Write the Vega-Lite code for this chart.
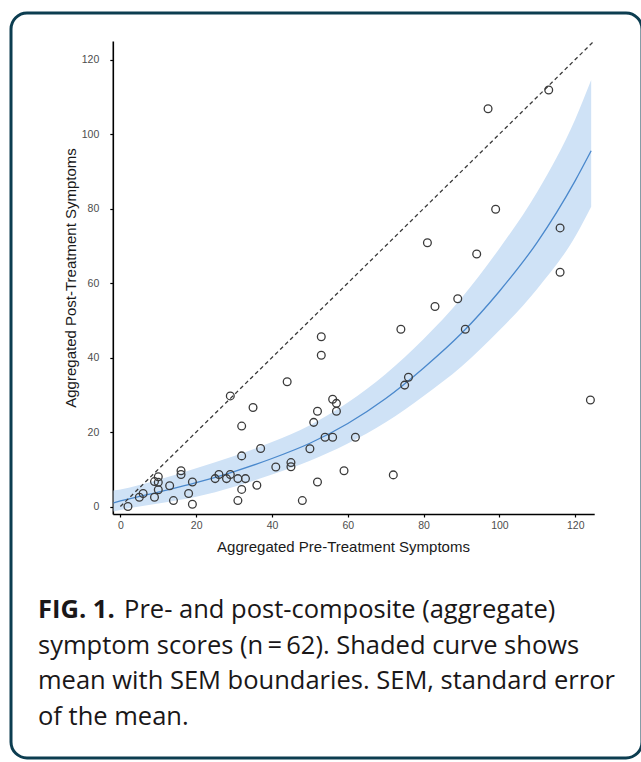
{
  "$schema": "https://vega.github.io/schema/vega-lite/v6.json",
  "width": 631,
  "height": 745,
  "autosize": {"type": "none"},
  "padding": {"left": 11, "top": 13, "right": 0, "bottom": 4},
  "background": "white",
  "title": {
    "text": "FIG. 1.",
    "subtitle": [
      "\u200b\u00a0\u00a0\u00a0\u00a0\u00a0\u00a0\u00a0\u00a0\u00a0\u00a0\u00a0\u00a0\u00a0Pre- and post-composite (aggregate)",
      "symptom scores (n\u2009=\u200962). Shaded curve shows",
      "mean with SEM boundaries. SEM, standard error",
      "of the mean."
    ],
    "orient": "bottom",
    "anchor": "start",
    "frame": "group",
    "dx": 27,
    "offset": -160,
    "font": "Open Sans",
    "fontSize": 25.5,
    "fontWeight": "bold",
    "color": "#1a1718",
    "subtitleFont": "Open Sans",
    "subtitleFontSize": 25.5,
    "subtitleFontWeight": "normal",
    "subtitleColor": "#1a1718",
    "subtitleLineHeight": 35.5,
    "subtitlePadding": -25.5
  },
  "datasets": {
    "points": [
      {"pre": 2, "post": 0}, {"pre": 5, "post": 2.5}, {"pre": 6, "post": 3.5}, {"pre": 9, "post": 2.5},
      {"pre": 9, "post": 6.7}, {"pre": 10, "post": 8}, {"pre": 10, "post": 6.5}, {"pre": 10, "post": 4.5},
      {"pre": 13, "post": 5.6}, {"pre": 14, "post": 1.6}, {"pre": 16, "post": 9.6}, {"pre": 16, "post": 8.6},
      {"pre": 18, "post": 3.5}, {"pre": 19, "post": 6.6}, {"pre": 19, "post": 0.6}, {"pre": 25, "post": 7.5},
      {"pre": 26, "post": 8.6}, {"pre": 28, "post": 7.5}, {"pre": 29, "post": 8.6}, {"pre": 31, "post": 7.5},
      {"pre": 33, "post": 7.5}, {"pre": 32, "post": 4.6}, {"pre": 36, "post": 5.7}, {"pre": 31, "post": 1.6},
      {"pre": 29, "post": 29.7}, {"pre": 35, "post": 26.6}, {"pre": 44, "post": 33.5}, {"pre": 32, "post": 21.6},
      {"pre": 37, "post": 15.6}, {"pre": 32, "post": 13.6}, {"pre": 41, "post": 10.6}, {"pre": 45, "post": 11.8},
      {"pre": 45, "post": 10.7}, {"pre": 48, "post": 1.6}, {"pre": 53, "post": 45.6}, {"pre": 53, "post": 40.6},
      {"pre": 56, "post": 28.8}, {"pre": 57, "post": 27.7}, {"pre": 57, "post": 25.6}, {"pre": 52, "post": 25.6},
      {"pre": 51, "post": 22.6}, {"pre": 54, "post": 18.6}, {"pre": 56, "post": 18.6}, {"pre": 62, "post": 18.6},
      {"pre": 50, "post": 15.5}, {"pre": 59, "post": 9.6}, {"pre": 72, "post": 8.5}, {"pre": 52, "post": 6.6},
      {"pre": 74, "post": 47.6}, {"pre": 83, "post": 53.7}, {"pre": 89, "post": 55.8}, {"pre": 91, "post": 47.6},
      {"pre": 76, "post": 34.7}, {"pre": 75, "post": 32.6}, {"pre": 124, "post": 28.6}, {"pre": 81, "post": 70.8},
      {"pre": 94, "post": 67.8}, {"pre": 99, "post": 79.8}, {"pre": 116, "post": 74.8}, {"pre": 116, "post": 62.9},
      {"pre": 97, "post": 106.8}, {"pre": 113, "post": 111.8}
    ],
    "fit": [
      {"pre": -1.8, "mean": 1.0, "lo": -1.3, "hi": 4.3},
      {"pre": 0, "mean": 1.5, "lo": -0.9, "hi": 4.6},
      {"pre": 10, "mean": 3.9, "lo": 0.8, "hi": 7.2},
      {"pre": 20, "mean": 6.4, "lo": 2.6, "hi": 10.3},
      {"pre": 30, "mean": 9.4, "lo": 5.3, "hi": 13.6},
      {"pre": 40, "mean": 12.9, "lo": 8.6, "hi": 17.3},
      {"pre": 50, "mean": 17.0, "lo": 12.3, "hi": 21.8},
      {"pre": 60, "mean": 22.3, "lo": 16.9, "hi": 27.9},
      {"pre": 70, "mean": 29.0, "lo": 22.6, "hi": 35.6},
      {"pre": 80, "mean": 37.2, "lo": 29.7, "hi": 45.0},
      {"pre": 90, "mean": 46.5, "lo": 37.6, "hi": 56.0},
      {"pre": 100, "mean": 57.8, "lo": 47.3, "hi": 69.3},
      {"pre": 110, "mean": 71.0, "lo": 58.5, "hi": 84.5},
      {"pre": 120, "mean": 87.5, "lo": 72.5, "hi": 104.0},
      {"pre": 124.2, "mean": 95.5, "lo": 80.5, "hi": 114.5}
    ],
    "identity": [
      {"pre": 0, "post": 0},
      {"pre": 125, "post": 125}
    ]
  },
  "layer": [
    {
      "data": {"name": "fit"},
      "mark": {"type": "area", "color": "#cfe2f6", "opacity": 1, "interpolate": "monotone"},
      "encoding": {
        "x": {"field": "pre", "type": "quantitative", "title": "Aggregated Pre-Treatment Symptoms",
              "scale": {"domain": [-2, 125], "range": [101.8, 583.2], "nice": false, "zero": false},
              "axis": {"values": [0, 20, 40, 60, 80, 100, 120]}},
        "y": {"field": "lo", "type": "quantitative", "title": "Aggregated Post-Treatment Symptoms",
              "scale": {"domain": [-2, 125], "range": [501, 27.9], "nice": false, "zero": false},
              "axis": {"values": [0, 20, 40, 60, 80, 100, 120]}},
        "y2": {"field": "hi"}
      }
    },
    {
      "data": {"name": "fit"},
      "mark": {"type": "line", "color": "#4a88cc", "strokeWidth": 1.3, "interpolate": "monotone"},
      "encoding": {
        "x": {"field": "pre", "type": "quantitative", "title": "Aggregated Pre-Treatment Symptoms",
              "scale": {"domain": [-2, 125], "range": [101.8, 583.2], "nice": false, "zero": false},
              "axis": {"values": [0, 20, 40, 60, 80, 100, 120]}},
        "y": {"field": "mean", "type": "quantitative", "title": "Aggregated Post-Treatment Symptoms",
              "scale": {"domain": [-2, 125], "range": [501, 27.9], "nice": false, "zero": false},
              "axis": {"values": [0, 20, 40, 60, 80, 100, 120]}}
      }
    },
    {
      "data": {"name": "identity"},
      "mark": {"type": "line", "color": "#3a3a3a", "strokeWidth": 1.3, "strokeDash": [4, 3]},
      "encoding": {
        "x": {"field": "pre", "type": "quantitative", "title": "Aggregated Pre-Treatment Symptoms",
              "scale": {"domain": [-2, 125], "range": [101.8, 583.2], "nice": false, "zero": false},
              "axis": {"values": [0, 20, 40, 60, 80, 100, 120]}},
        "y": {"field": "post", "type": "quantitative", "title": "Aggregated Post-Treatment Symptoms",
              "scale": {"domain": [-2, 125], "range": [501, 27.9], "nice": false, "zero": false},
              "axis": {"values": [0, 20, 40, 60, 80, 100, 120]}}
      }
    },
    {
      "data": {"name": "points"},
      "mark": {"type": "point", "shape": "circle", "filled": false, "stroke": "#3a3a3a", "strokeWidth": 1.3, "size": 60, "opacity": 1},
      "encoding": {
        "x": {"field": "pre", "type": "quantitative", "title": "Aggregated Pre-Treatment Symptoms",
              "scale": {"domain": [-2, 125], "range": [101.8, 583.2], "nice": false, "zero": false},
              "axis": {"values": [0, 20, 40, 60, 80, 100, 120]}},
        "y": {"field": "post", "type": "quantitative", "title": "Aggregated Post-Treatment Symptoms",
              "scale": {"domain": [-2, 125], "range": [501, 27.9], "nice": false, "zero": false},
              "axis": {"values": [0, 20, 40, 60, 80, 100, 120]}}
      }
    }
  ],
  "config": {
    "view": {"stroke": "#0c3d50", "strokeWidth": 3, "cornerRadius": 16, "fill": "white"},
    "axis": {
      "grid": false,
      "domainColor": "#000000",
      "domainWidth": 1.6,
      "tickColor": "#000000",
      "tickSize": 3,
      "tickWidth": 1.2,
      "labelFont": "Liberation Sans",
      "labelFontSize": 10.5,
      "labelColor": "#4d4d4d",
      "titleFont": "Liberation Sans",
      "titleFontSize": 15,
      "titleFontWeight": "normal",
      "titleColor": "#1a1a1a"
    },
    "axisX": {"offset": -244, "labelPadding": 3, "titlePadding": 9, "titleX": 332},
    "axisY": {"offset": -101.8, "labelPadding": 11, "titlePadding": 3}
  }
}
